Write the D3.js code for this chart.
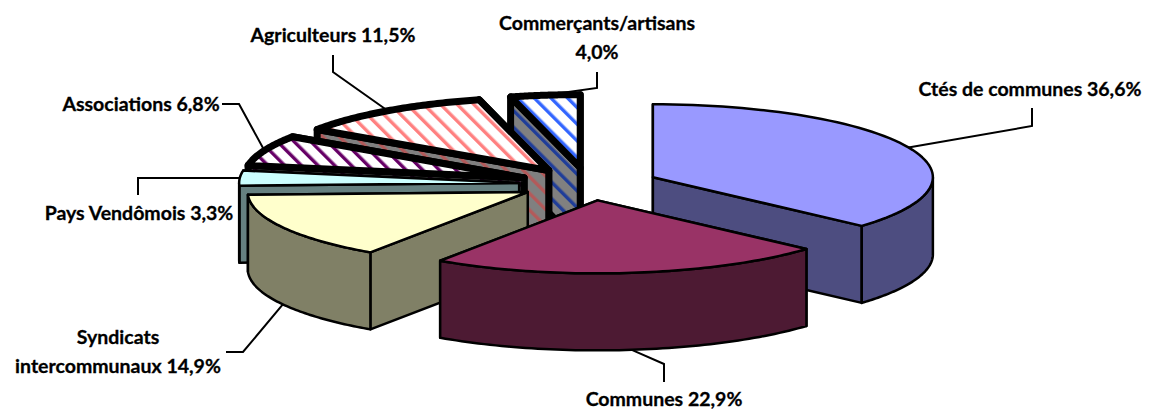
<!DOCTYPE html>
<html lang="fr">
<head>
<meta charset="utf-8">
<style>
html,body{margin:0;padding:0;background:#fff;}
svg{display:block;}
text{font-family:Lato,"Open Sans",sans-serif;font-weight:700;font-size:19.5px;fill:#000;stroke:#000;stroke-width:0.3px;}
</style>
<script src="https://cdn.jsdelivr.net/npm/d3@7"></script>
</head>
<body>
<div id="chart"></div>
<script>
const categories = ["Ctés de communes","Communes","Syndicats intercommunaux","Pays Vendômois","Associations","Agriculteurs","Commerçants/artisans"];
const values = [36.6,22.9,14.9,3.3,6.8,11.5,4.0];
const topColors = ["#9999ff","#993366","#ffffcc","#ccffff","#660066","#ff8080","#3366ff"];
const wallColors = ["#4d4d80","#4d1a33","#808066","#668080","#808080","#808080","#808080"];
const wallStripes = [null,null,null,null,"#330033","#b35a5a","#1f3d99"];
const hatched = [false,false,false,false,true,true,true];
const strokeWidths = [2.5,2.5,2.5,2.5,7,7,7];
const drawOrder = [0,6,5,4,3,2,1];

const width = 1149, height = 410;
const layout = {cx:589, cy:184, rx:280, ry:73, depth:77, explodeX:70, explodeY:16.5};

// Leader bends and label placement in category order
const leaders = [
  [[1032,126],[1032,108]],
  [[664,364],[664,382]],
  [[243,352],[226,352]],
  [[138,178],[138,195]],
  [[239,104],[222,104]],
  [[333,72],[333,55]],
  [[597,88],[597,72]]
];
const labelLines = [
  ["Ctés de communes 36,6%"],
  ["Communes 22,9%"],
  ["Syndicats","intercommunaux 14,9%"],
  ["Pays Vendômois 3,3%"],
  ["Associations 6,8%"],
  ["Agriculteurs 11,5%"],
  ["Commerçants/artisans","4,0%"]
];
const labelPos = [
  [1030,96],[664,406],[118,344],[139,220],[141,111],[333,42],[597,30]
];
const lineGap = 29;

const svg = d3.select("#chart").append("svg").attr("width",width).attr("height",height);
const defs = svg.append("defs");

function addPattern(id,bg,fg){
  const p = defs.append("pattern").attr("id",id).attr("patternUnits","userSpaceOnUse")
    .attr("width",11.8).attr("height",11.8).attr("patternTransform","rotate(-45)");
  p.append("rect").attr("width",11.8).attr("height",11.8).attr("fill",bg);
  p.append("rect").attr("x",0).attr("width",3.4).attr("height",11.8).attr("fill",fg);
}
categories.forEach((c,i)=>{
  if(hatched[i]){
    addPattern("top"+i,"#ffffff",topColors[i]);
    addPattern("wall"+i,wallColors[i],wallStripes[i]);
  }
});
const fillTop = i => hatched[i] ? `url(#top${i})` : topColors[i];
const fillWall = i => hatched[i] ? `url(#wall${i})` : wallColors[i];

const arcs = d3.pie().sort(null).value(d=>d)(values);

const sx = d3.scaleLinear().domain([-1,1]).range([-layout.rx,layout.rx]);
const sy = d3.scaleLinear().domain([-1,1]).range([-layout.ry,layout.ry]);

function center(a){
  const mid = (a.startAngle+a.endAngle)/2;
  return [layout.cx+layout.explodeX*Math.sin(mid), layout.cy-layout.explodeY*Math.cos(mid)];
}
function rim(a,ang,drop){
  const c = center(a);
  return [c[0]+sx(Math.sin(ang)), c[1]+sy(-Math.cos(ang))+(drop||0)];
}
function samples(a0,a1){
  return d3.range(0,65).map(k=>a0+(a1-a0)*k/64);
}
const line = d3.line().curve(d3.curveLinear);

function wallPath(a,ang){
  const c = center(a), e = rim(a,ang);
  return line([c,e,[e[0],e[1]+layout.depth],[c[0],c[1]+layout.depth]])+"Z";
}
function outerPath(a,a0,a1){
  const t = samples(a0,a1).map(g=>rim(a,g));
  const b = samples(a0,a1).reverse().map(g=>rim(a,g,layout.depth));
  return line(t.concat(b))+"Z";
}
function topPath(a){
  return line([center(a)].concat(samples(a.startAngle,a.endAngle).map(g=>rim(a,g))))+"Z";
}

const g = svg.append("g").attr("stroke","#000").attr("stroke-linejoin","round");
drawOrder.forEach(i=>{
  const a = arcs[i], mid=(a.startAngle+a.endAngle)/2;
  const sg = g.append("g").attr("stroke-width",strokeWidths[i]);
  const walls = mid<Math.PI ? [a.startAngle,a.endAngle] : [a.endAngle,a.startAngle];
  walls.forEach(w=>sg.append("path").attr("d",wallPath(a,w)).attr("fill",fillWall(i)));
  const lo = Math.max(a.startAngle,Math.PI/2), hi = Math.min(a.endAngle,3*Math.PI/2);
  if(hi>lo) sg.append("path").attr("d",outerPath(a,lo,hi)).attr("fill",fillWall(i));
  sg.append("path").attr("d",topPath(a)).attr("fill",fillTop(i));
});

// leader lines start at the middle of each slice's rim
const lg = svg.append("g").attr("fill","none").attr("stroke","#000").attr("stroke-width",2);
arcs.forEach((a,i)=>{
  const mid=(a.startAngle+a.endAngle)/2;
  const front = i===1||i===2;
  const s = rim(a,mid,front?layout.depth:0);
  lg.append("path").attr("d",line([s].concat(leaders[i])));
});

const tg = svg.append("g").attr("text-anchor","middle");
labelLines.forEach((ls,i)=>{
  ls.forEach((t,k)=>{
    tg.append("text").attr("x",labelPos[i][0]).attr("y",labelPos[i][1]+k*lineGap).text(t);
  });
});
</script>
</body>
</html>
